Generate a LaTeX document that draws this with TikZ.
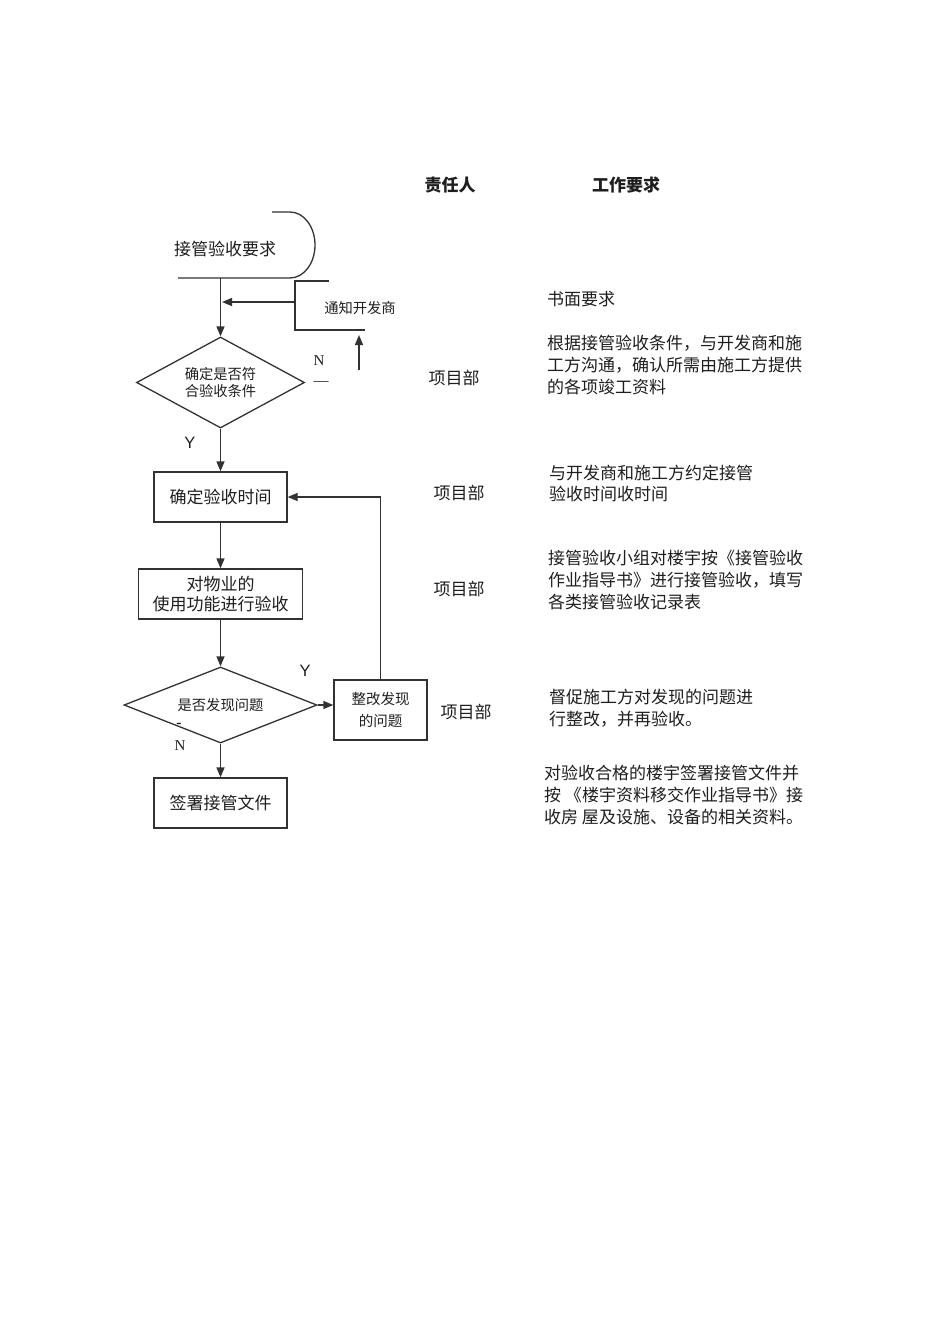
\documentclass[tikz,border=0pt]{standalone}
\usepackage{fontspec}
\setmainfont{Noto Sans CJK SC}
\newfontfamily\latinsans{Liberation Sans}
\newfontfamily\latinserif{Liberation Serif}
\usetikzlibrary{arrows.meta,shapes.geometric,positioning}
\definecolor{lineGray}{RGB}{50,50,50}
\definecolor{textGray}{RGB}{30,30,30}

\begin{document}
\begin{tikzpicture}[
  x=1pt,y=-1pt,
  every node/.style={text=textGray,inner sep=0pt},
  big/.style={font=\fontsize{17}{22}\selectfont},
  small/.style={font=\fontsize{14.3}{17}\selectfont},
  head/.style={font=\fontsize{17}{22}\selectfont\bfseries},
  flowbox/.style={draw=lineGray,line width=1.3pt,align=center,big},
  decision/.style={draw=lineGray,line width=1.3pt,diamond,aspect=1.85,align=center,small},
  plain/.style={draw=lineGray,line width=1.3pt},
  arr/.style={-{Triangle[length=10pt,width=8pt]},draw=lineGray,line width=1.3pt},
  ylabel/.style={font=\latinsans\fontsize{16.5}{16.5}\selectfont},
  nlabel/.style={font=\latinserif\fontsize{15}{15}\selectfont},
  duty/.style={big},
  req/.style={big,align=left,anchor=west}
]
  \useasboundingbox (0,0) rectangle (950,1344);

  % Column heads.
  \node[head] (headDuty) at (450,185) {责任人};
  \node[head] (headReq) at (626,185) {工作要求};

  % Start terminal, open on the left.
  \node[big] (start) at (225,249) {接管验收要求};
  \draw[plain] (272,212) -- (290,212)
    arc[start angle=-90,end angle=90,x radius=25,y radius=33] -- (178,278);
  \coordinate (startOut) at (220.5,278);

  % Flow steps.
  \node[decision,minimum width=168pt,minimum height=91pt] (check) at (220.5,382.5) {确定是否符\\合验收条件};
  \node[flowbox,minimum width=133pt,minimum height=50pt] (settime) at (220.5,497) {确定验收时间};
  \node[flowbox,minimum width=164pt,minimum height=50pt,font=\fontsize{17}{20}\selectfont] (inspect) at (220.5,594) {对物业的\\使用功能进行验收};
  \node[decision,minimum width=193pt,minimum height=76pt] (found) at (220.5,705) {是否发现问题};
  \node[flowbox,minimum width=93pt,minimum height=60pt,font=\fontsize{14.5}{22}\selectfont] (rectify) at (380.5,710) {整改发现\\的问题};
  \node[flowbox,minimum width=133pt,minimum height=50pt] (signoff) at (220.5,803) {签署接管文件};

  % Notice loop on the N branch.
  \node[small] (notify) at (360,308) {通知开发商};
  \draw[plain] (329,281) -- (295,281) -- (295,330) -- (365,330);
  \coordinate (notifyOut) at (295,302);
  \coordinate (backTail) at (359,370);
  \coordinate (backHead) at (359,335);

  % Connectors.
  \draw[arr] (startOut) -- (check.north);
  \draw[arr,shorten >=1.5pt] (notifyOut) -- (notifyOut -| startOut);
  \draw[arr] (backTail) -- (backHead);
  \draw[arr] (check.south) -- (settime.north);
  \draw[arr] (settime.south) -- (inspect.north);
  \draw[arr] (inspect.south) -- (found.north);
  \draw[arr] (found.east) -- (found.east -| rectify.west);
  \draw[arr] (rectify.north) |- (settime.east);
  \draw[arr] (found.south) -- (signoff.north);

  % Branch marks.
  \node[nlabel] (checkN) at (319,361) {N};
  \node[nlabel] (checkDash) at (321,384) {—};
  \node[ylabel] (checkY) at (190,443) {Y};
  \node[ylabel] (foundY) at (305,671) {Y};
  \node[nlabel,font=\latinsans\fontsize{17}{17}\selectfont] (foundDash) at (179,726) {-};
  \node[nlabel] (foundN) at (180,746) {N};

  % Responsible party.
  \node[duty] (duty1) at (454,378) {项目部};
  \node[duty] (duty2) at (459,493) {项目部};
  \node[duty] (duty3) at (459,589) {项目部};
  \node[duty] (duty4) at (466,712) {项目部};

  % Work requirements.
  \node[req] (req1) at (547,299) {书面要求};
  \node[req] (req2) at (547,365.5) {根据接管验收条件，与开发商和施\\工方沟通，确认所需由施工方提供\\的各项竣工资料};
  \node[req,font=\fontsize{17}{21}\selectfont] (req3) at (549,483.5) {与开发商和施工方约定接管\\验收时间收时间};
  \node[req] (req4) at (548,580) {接管验收小组对楼宇按《接管验收\\作业指导书》进行接管验收，填写\\各类接管验收记录表};
  \node[req] (req5) at (549,708) {督促施工方对发现的问题进\\行整改，并再验收。};
  \node[req] (req6) at (544,795) {对验收合格的楼宇签署接管文件并\\按 《楼宇资料移交作业指导书》接\\收房 屋及设施、设备的相关资料。};
\end{tikzpicture}
\end{document}
